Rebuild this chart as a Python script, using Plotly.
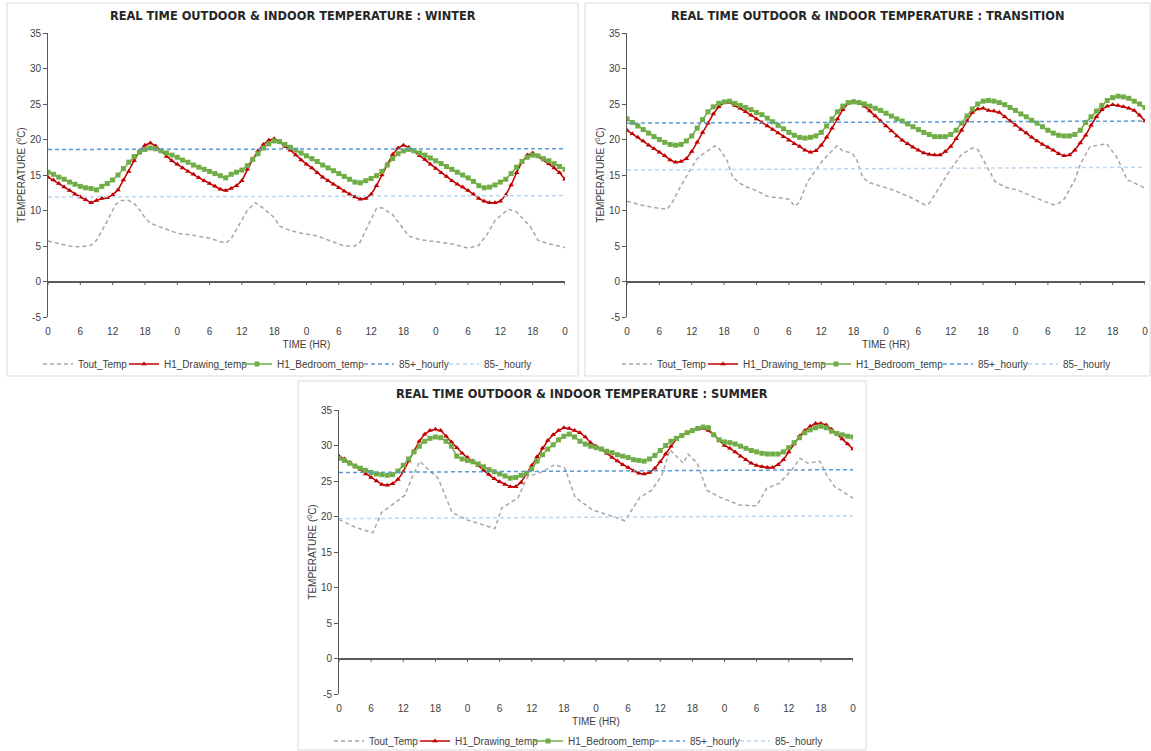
import plotly.graph_objects as go

# ---------------- shared scales ----------------
HOURS = list(range(97))
TICK_HOURS = list(range(0, 97, 6))
TICK_TEXT = [str(h % 24) for h in TICK_HOURS]
Y_TICKS = list(range(-5, 36, 5))
Y_TICK_TEXT = [str(v) for v in Y_TICKS]          # plain hyphen for "-5" as in the source
DAY_HOURS = [0, 24, 48, 72, 96]

SERIES_NAMES = ["Tout_Temp", "H1_Drawing_temp", "H1_Bedroom_temp", "85+_hourly", "85-_hourly"]
TITLES = ["REAL TIME OUTDOOR & INDOOR TEMPERATURE : WINTER",
          "REAL TIME OUTDOOR & INDOOR TEMPERATURE : TRANSITION",
          "REAL TIME OUTDOOR & INDOOR TEMPERATURE : SUMMER"]

# ---------------- WINTER ----------------
winter_tout_hr = [0, 2, 4, 6, 8, 9, 11, 12.5, 13.5, 15, 16, 17, 18, 19, 20, 22, 24, 27, 30, 32, 33, 34,
                  35.5, 37, 38.5, 40, 42, 43, 45, 47, 50, 53, 55, 57, 58, 59.5, 61, 62, 64, 66, 67, 69,
                  72, 75, 78, 80, 81.5, 83, 85.5, 87, 89.5, 91, 93, 96]
winter_tout = [5.7, 5.4, 5.0, 4.9, 5.1, 5.8, 8.5, 10.8, 11.4, 11.4, 11.0, 10.1, 9.0, 8.2, 7.9, 7.4, 6.8,
               6.5, 6.1, 5.6, 5.4, 6.0, 8.0, 10.0, 11.1, 10.3, 9.0, 7.8, 7.2, 6.8, 6.4, 5.6, 5.0, 5.0,
               5.6, 8.0, 10.3, 10.4, 9.4, 7.4, 6.4, 5.9, 5.6, 5.3, 4.7, 5.1, 6.6, 8.6, 10.2, 9.8, 7.8,
               5.8, 5.3, 4.8]
winter_drawing = [14.7, 14.3, 13.8, 13.3, 12.8, 12.3, 11.9, 11.5, 11.1, 11.4, 11.7, 11.8, 12.2, 12.9,
                  14.3, 15.5, 17.0, 18.4, 19.2, 19.5, 19.1, 18.4, 17.6, 17.0, 16.5, 16.0, 15.5, 15.1,
                  14.6, 14.2, 13.8, 13.4, 13.0, 12.8, 13.1, 13.5, 14.2, 15.8, 17.2, 18.4, 19.3, 19.9,
                  20.1, 19.7, 19.0, 18.5, 17.8, 17.1, 16.5, 16.0, 15.3, 14.7, 14.2, 13.7, 13.2, 12.7,
                  12.3, 11.9, 11.6, 11.7, 12.3, 13.5, 15.0, 16.5, 17.9, 18.8, 19.2, 18.9, 18.3, 17.7,
                  17.2, 16.5, 15.9, 15.3, 14.8, 14.2, 13.7, 13.3, 12.8, 12.3, 11.7, 11.3, 11.1, 11.1,
                  11.3, 12.2, 13.6, 15.3, 16.8, 17.8, 18.1, 17.6, 17.1, 16.6, 16.0, 15.3, 14.4]
winter_bedroom = [15.4, 15.1, 14.7, 14.4, 14.0, 13.7, 13.4, 13.2, 13.1, 12.9, 13.4, 13.8, 14.3, 15.0,
                  15.9, 16.8, 17.6, 18.2, 18.6, 18.8, 18.7, 18.4, 18.1, 17.8, 17.5, 17.1, 16.8, 16.4,
                  16.1, 15.8, 15.5, 15.2, 14.9, 14.6, 15.1, 15.4, 15.7, 16.3, 17.2, 18.0, 18.8, 19.4,
                  19.8, 19.7, 19.3, 18.9, 18.5, 18.1, 17.7, 17.3, 16.9, 16.4, 16.0, 15.6, 15.2, 14.8,
                  14.4, 14.0, 13.9, 14.2, 14.5, 14.9, 15.5, 16.4, 17.3, 18.0, 18.4, 18.6, 18.4, 18.1,
                  17.8, 17.4, 17.0, 16.6, 16.2, 15.8, 15.4, 15.0, 14.6, 14.1, 13.5, 13.2, 13.3, 13.6,
                  14.0, 14.4, 15.2, 16.1, 16.9, 17.5, 17.8, 17.7, 17.3, 17.0, 16.6, 16.2, 15.8]
winter_p85_plus = [18.6, 18.6, 18.65, 18.7, 18.7]
winter_p85_minus = [11.9, 11.95, 12.0, 12.05, 12.1]

# ---------------- TRANSITION ----------------
trans_tout_hr = [0, 3, 6, 7.5, 8.5, 10, 11.7, 13, 14, 16.3, 17, 18.5, 19.6, 21, 22.2, 24, 26, 28.4, 30,
                 31.1, 32, 33.4, 35, 36.3, 38.9, 40, 41.6, 42.5, 43.7, 45, 46.3, 49.3, 52.4, 55.2, 56,
                 58, 59.9, 62, 64, 65, 66.7, 68.2, 70, 72.3, 76, 79, 80, 81, 83, 84, 85.8, 88.9, 90.8,
                 92.7, 94, 95.6, 96]
trans_tout = [11.3, 10.7, 10.3, 10.2, 11.3, 13.5, 15.7, 17.3, 17.9, 19.1, 18.8, 17.1, 14.7, 13.8, 13.3,
              12.8, 12.0, 11.7, 11.6, 10.6, 11.2, 14.0, 15.8, 17.1, 19.1, 18.4, 18.1, 17.3, 14.6, 13.9,
              13.6, 12.9, 11.9, 10.8, 11.0, 13.5, 15.7, 17.9, 18.8, 18.6, 16.2, 14.1, 13.3, 12.9, 11.7,
              10.8, 11.0, 11.6, 14.3, 16.5, 19.0, 19.4, 17.5, 14.3, 13.9, 13.3, 13.0]
trans_drawing = [21.3, 20.8, 20.3, 19.8, 19.2, 18.7, 18.2, 17.7, 17.1, 16.8, 16.9, 17.3, 18.3, 19.6,
                 21.0, 22.3, 23.6, 24.6, 25.2, 25.2, 24.8, 24.4, 23.9, 23.4, 22.9, 22.4, 21.9, 21.4,
                 20.9, 20.4, 19.9, 19.4, 19.0, 18.5, 18.2, 18.4, 19.2, 20.3, 21.6, 22.9, 24.2, 25.1,
                 25.4, 25.2, 24.7, 24.0, 23.3, 22.6, 21.9, 21.2, 20.5, 19.9, 19.4, 18.9, 18.5, 18.1,
                 17.9, 17.8, 17.8, 18.3, 19.0, 20.1, 21.3, 22.6, 23.8, 24.3, 24.4, 24.1, 24.0, 23.8,
                 23.2, 22.6, 22.0, 21.4, 20.9, 20.3, 19.8, 19.3, 18.9, 18.5, 18.0, 17.7, 17.8, 18.5,
                 19.5, 20.6, 22.0, 23.2, 24.2, 24.7, 24.9, 24.8, 24.6, 24.4, 24.1, 23.4, 22.6]
trans_bedroom = [22.9, 22.4, 21.9, 21.4, 20.9, 20.4, 20.0, 19.6, 19.3, 19.2, 19.3, 19.8, 20.5, 21.6,
                 22.8, 23.9, 24.6, 25.1, 25.3, 25.4, 25.1, 24.8, 24.5, 24.2, 23.8, 23.5, 23.0, 22.5,
                 22.0, 21.5, 21.0, 20.6, 20.3, 20.2, 20.3, 20.5, 21.0, 21.9, 22.9, 23.9, 24.7, 25.2,
                 25.3, 25.2, 25.0, 24.7, 24.4, 24.1, 23.7, 23.3, 22.9, 22.6, 22.2, 21.8, 21.4, 21.0,
                 20.7, 20.4, 20.4, 20.4, 20.7, 21.3, 22.3, 23.3, 24.3, 25.0, 25.4, 25.5, 25.4, 25.2,
                 24.9, 24.5, 24.1, 23.6, 23.2, 22.7, 22.3, 21.8, 21.3, 20.9, 20.6, 20.5, 20.5, 20.7,
                 21.3, 22.4, 23.2, 24.0, 24.8, 25.5, 25.9, 26.1, 26.0, 25.8, 25.4, 25.0, 24.5]
trans_p85_plus = [22.3, 22.35, 22.4, 22.5, 22.6]
trans_p85_minus = [15.7, 15.8, 15.9, 16.0, 16.1]

# ---------------- SUMMER ----------------
summer_tout_hr = [0, 3, 6.3, 8, 10.4, 12.3, 13.6, 15.1, 16.4, 18.5, 21.1, 24, 27, 29.1, 30.4, 33.4, 35.2,
                  38, 40.3, 42.2, 44.1, 47.4, 50, 53.4, 56.2, 58.4, 60.3, 61.8, 64.3, 65.2, 66.9, 68.7,
                  71.2, 74.9, 78, 79.9, 82.3, 84.8, 86.1, 87.6, 89.8, 91.1, 92.6, 96]
summer_tout = [19.6, 18.5, 17.7, 20.6, 21.9, 23.0, 25.4, 27.8, 26.8, 25.4, 20.6, 19.5, 18.8, 18.3, 21.2,
               22.6, 25.6, 26.3, 27.3, 26.8, 22.7, 20.9, 20.3, 19.4, 22.7, 23.7, 25.8, 29.4, 27.5, 28.8,
               27.5, 23.7, 22.7, 21.6, 21.5, 24.0, 24.7, 26.8, 28.2, 27.5, 27.8, 25.8, 24.2, 22.6]
summer_drawing = [28.5, 28.1, 27.6, 27.1, 26.6, 26.0, 25.5, 25.0, 24.5, 24.4, 24.6, 25.2, 26.3, 27.8,
                  29.2, 30.6, 31.6, 32.1, 32.3, 32.1, 31.3, 30.5, 29.7, 28.9, 28.3, 27.8, 27.2, 26.5,
                  25.9, 25.3, 24.9, 24.5, 24.2, 24.2, 24.8, 26.0, 27.2, 28.4, 29.6, 30.7, 31.5, 32.1,
                  32.5, 32.4, 32.1, 31.8, 31.2, 30.4, 29.9, 29.5, 28.9, 28.3, 27.8, 27.3, 26.9, 26.4,
                  26.1, 26.0, 26.2, 26.8, 27.7, 28.8, 29.9, 30.9, 31.4, 31.8, 32.2, 32.4, 32.4, 32.1,
                  31.5, 30.7, 30.0, 29.6, 29.1, 28.5, 28.0, 27.5, 27.2, 27.0, 26.9, 26.9, 27.3, 28.0,
                  29.1, 30.2, 31.3, 32.1, 32.7, 33.1, 33.1, 32.9, 32.3, 31.6, 30.9, 30.2, 29.5]
summer_bedroom = [28.2, 27.9, 27.5, 27.1, 26.8, 26.5, 26.2, 26.0, 25.9, 25.8, 25.9, 26.4, 27.2, 28.1,
                  29.1, 29.9, 30.6, 31.0, 31.2, 31.1, 30.6, 29.9, 28.5, 28.1, 27.9, 27.7, 27.4, 27.0,
                  26.6, 26.3, 26.0, 25.7, 25.4, 25.5, 25.8, 26.1, 26.7, 27.8, 28.7, 29.5, 30.1, 30.8,
                  31.3, 31.6, 31.2, 30.6, 30.2, 29.9, 29.7, 29.5, 29.2, 29.0, 28.7, 28.5, 28.3, 28.0,
                  27.9, 27.8, 28.1, 28.6, 29.3, 30.0, 30.6, 31.0, 31.4, 31.8, 32.1, 32.4, 32.6, 32.5,
                  31.5, 30.8, 30.5, 30.4, 30.2, 29.9, 29.6, 29.3, 29.1, 28.9, 28.8, 28.8, 28.8, 29.1,
                  29.7, 30.4, 31.1, 31.8, 32.2, 32.5, 32.7, 32.5, 32.0, 31.7, 31.5, 31.3, 31.2]
summer_p85_plus = [26.2, 26.3, 26.4, 26.5, 26.6]
summer_p85_minus = [19.7, 19.8, 19.9, 19.95, 20.1]

# ---------------- styling ----------------
FONT = "Liberation Sans, Arial, sans-serif"
TEXT_COLOR = "#404040"
AXIS_COLOR = "#595959"
C_TOUT = "#A6A6A6"
C_RED = "#C00000"
C_GREEN = "#70AD47"
C_P85 = "#5B9BD5"
C_M85 = "#BDD7EE"
W, H = 1151, 751

# panel pixel geometry: plot area (left, right, top, bottom) and outer frame
panels = [
    dict(plot=(48, 565, 33, 317), frame=(7, 578, 3, 376)),
    dict(plot=(627, 1145, 33, 317), frame=(585, 1150, 3, 376)),
    dict(plot=(339, 853, 410, 694), frame=(298, 866, 381, 750)),
]
# where each legend entry's text starts, relative to the plot's left edge (px)
LEGEND_TEXT_OFFSETS = [32, 118, 231, 353, 438]

datasets = [
    (winter_tout_hr, winter_tout, winter_drawing, winter_bedroom, winter_p85_plus, winter_p85_minus),
    (trans_tout_hr, trans_tout, trans_drawing, trans_bedroom, trans_p85_plus, trans_p85_minus),
    (summer_tout_hr, summer_tout, summer_drawing, summer_bedroom, summer_p85_plus, summer_p85_minus),
]

fig = go.Figure()
layout = dict(width=W, height=H, margin=dict(l=0, r=0, t=0, b=0, autoexpand=False), autosize=False,
              paper_bgcolor="white", plot_bgcolor="white",
              font=dict(family=FONT, color=TEXT_COLOR, size=10),
              annotations=[], shapes=[], showlegend=True)

legend_counter = 1
for i, (panel, data) in enumerate(zip(panels, datasets)):
    sfx = "" if i == 0 else str(i + 1)
    xa, ya = "x" + sfx, "y" + sfx
    tout_hr, tout, drawing, bedroom, p85, m85 = data
    l, r, t, b = panel["plot"]

    legend_ids = []
    for k in range(5):
        legend_counter += 1
        lid = "legend%d" % legend_counter
        legend_ids.append(lid)
        layout[lid] = dict(orientation="h", x=(l + LEGEND_TEXT_OFFSETS[k] - 42) / W, xanchor="left",
                           y=1 - (b + 47) / H, yanchor="middle", bgcolor="rgba(0,0,0,0)",
                           font=dict(size=10, color=TEXT_COLOR), itemwidth=30, tracegroupgap=0)

    fig.add_trace(go.Scatter(x=tout_hr, y=tout, name=SERIES_NAMES[0], mode="lines",
                             line=dict(color=C_TOUT, width=1.5, dash="4px,3px"),
                             xaxis=xa, yaxis=ya, legend=legend_ids[0], showlegend=True))
    fig.add_trace(go.Scatter(x=HOURS, y=drawing, name=SERIES_NAMES[1], mode="lines+markers",
                             line=dict(color=C_RED, width=1.5),
                             marker=dict(symbol="triangle-up", size=5, color=C_RED),
                             xaxis=xa, yaxis=ya, legend=legend_ids[1], showlegend=True))
    fig.add_trace(go.Scatter(x=HOURS, y=bedroom, name=SERIES_NAMES[2], mode="lines+markers",
                             line=dict(color=C_GREEN, width=1.5),
                             marker=dict(symbol="square", size=5, color=C_GREEN),
                             xaxis=xa, yaxis=ya, legend=legend_ids[2], showlegend=True))
    fig.add_trace(go.Scatter(x=DAY_HOURS, y=p85, name=SERIES_NAMES[3], mode="lines",
                             line=dict(color=C_P85, width=1.5, dash="4px,3px"),
                             xaxis=xa, yaxis=ya, legend=legend_ids[3], showlegend=True))
    fig.add_trace(go.Scatter(x=DAY_HOURS, y=m85, name=SERIES_NAMES[4], mode="lines",
                             line=dict(color=C_M85, width=1.5, dash="4px,3px"),
                             xaxis=xa, yaxis=ya, legend=legend_ids[4], showlegend=True))

    xdom = [l / W, r / W]
    ydom = [1 - b / H, 1 - t / H]
    layout["xaxis" + sfx] = dict(domain=xdom, anchor=ya, range=[0, 96], tickvals=TICK_HOURS,
                                 ticktext=TICK_TEXT, showline=False, showgrid=False, zeroline=False,
                                 ticks="outside", ticklen=5, tickcolor="rgba(0,0,0,0)",
                                 tickfont=dict(size=10, color=TEXT_COLOR),
                                 title=dict(text="TIME (HR)", font=dict(size=10, color=TEXT_COLOR),
                                            standoff=4),
                                 automargin=False, fixedrange=True)
    layout["yaxis" + sfx] = dict(domain=ydom, anchor=xa, range=[-5, 35], tickvals=Y_TICKS,
                                 ticktext=Y_TICK_TEXT,
                                 showline=True, linecolor=AXIS_COLOR, linewidth=1,
                                 showgrid=False, zeroline=True, zerolinecolor=AXIS_COLOR,
                                 zerolinewidth=1.5, ticks="outside", ticklen=4, tickcolor=AXIS_COLOR,
                                 tickfont=dict(size=10, color=TEXT_COLOR),
                                 title=dict(text="TEMPERATURE (<sup>0</sup>C)",
                                            font=dict(size=10, color=TEXT_COLOR), standoff=2),
                                 automargin=False, fixedrange=True)

    fl, fr, ft, fb = panel["frame"]
    layout["shapes"].append(dict(type="rect", xref="paper", yref="paper",
                                 x0=fl / W, x1=fr / W, y0=1 - fb / H, y1=1 - ft / H,
                                 line=dict(color="#D9D9D9", width=1), fillcolor="rgba(0,0,0,0)",
                                 layer="below"))
    # small tick marks hanging below the zero line
    for th in TICK_HOURS:
        layout["shapes"].append(dict(type="line", xref=xa, yref=ya, x0=th, x1=th, y0=0, y1=-0.5,
                                     line=dict(color=AXIS_COLOR, width=1)))
    layout["annotations"].append(dict(text="<b>" + TITLES[i] + "</b>", xref="paper", yref="paper",
                                      x=(fl + fr) / 2 / W, y=1 - (ft + 13) / H,
                                      xanchor="center", yanchor="middle", showarrow=False,
                                      font=dict(size=11.4, color="#262626", family="DejaVu Sans")))

fig.update_layout(**layout)
fig.write_html(
    "out.html",
    include_plotlyjs=True,
    full_html=True,
    default_width="%dpx" % W,
    default_height="%dpx" % H,
    config={"displayModeBar": False, "responsive": False},
    post_script="document.body.style.margin='0';document.body.style.overflow='hidden';",
)
